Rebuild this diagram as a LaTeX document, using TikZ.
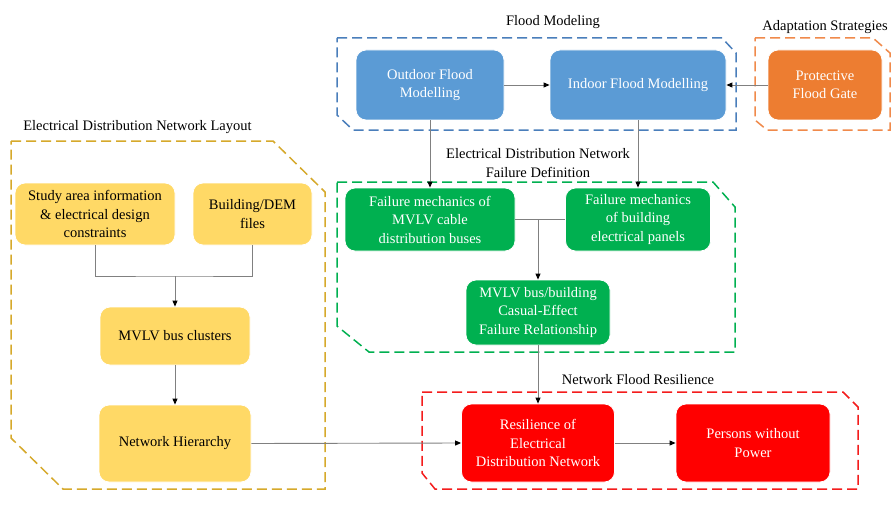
\documentclass[tikz,border=0pt]{standalone}
\usepackage{fontspec}
\setmainfont{Liberation Serif}
\usetikzlibrary{arrows.meta}
\definecolor{cblue}{HTML}{5B9BD5}
\definecolor{corange}{HTML}{ED7D31}
\definecolor{cyellow}{HTML}{FFD966}
\definecolor{cgreen}{HTML}{00B050}
\definecolor{cred}{HTML}{FF0000}
\definecolor{dblue}{HTML}{4A7EBB}
\definecolor{dorange}{HTML}{F08A4B}
\definecolor{dyellow}{HTML}{D6A92B}
\definecolor{dgreen}{HTML}{00B050}
\definecolor{dred}{HTML}{F41C1C}
\definecolor{lgray}{HTML}{808080}
\begin{document}
\begin{tikzpicture}[x=1pt,y=-1pt,
  box/.style={rounded corners=10pt, draw=white, line width=0.8pt, align=center, inner sep=0pt,
    font=\fontsize{14.5}{18.5}\selectfont},
  bluebox/.style={box, fill=cblue, text=white},
  orangebox/.style={box, fill=corange, text=white},
  yellowbox/.style={box, fill=cyellow, text=black},
  greenbox/.style={box, fill=cgreen, text=white},
  redbox/.style={box, fill=cred, text=white},
  grouplabel/.style={align=center, inner sep=0pt, font=\fontsize{14.5}{18.5}\selectfont},
  region/.style={dash pattern=on 10pt off 5pt, line width=1.5pt, line join=miter},
  conn/.style={draw=lgray, line width=0.9pt},
  arr/.style={conn, -{Triangle[length=6pt,width=5pt,color=black]}}
]
\useasboundingbox (0,0) rectangle (896,508);
\fill[white] (0,0) rectangle (896,508);

% dashed regions
\draw[region, dblue] (337,38) -- (722,38) -- (736,53) -- (736,130) -- (353,130) -- (337,115) -- cycle;
\draw[region, dorange] (755,38) -- (873,38) -- (890,53) -- (890,130) -- (767,130) -- (755,120) -- cycle;
\draw[region, dgreen] (337,182) -- (713,182) -- (735,207) -- (735,352) -- (369,352) -- (337,326) -- cycle;
\draw[region, dred] (422,392) -- (843,392) -- (858,407) -- (858,489) -- (435,489) -- (422,473) -- cycle;
\draw[region, dyellow] (11,141) -- (273,141) -- (325,192) -- (325,489) -- (63,489) -- (11,438) -- cycle;

% group labels
\node[grouplabel] (lflood) at (553,22) {Flood Modeling};
\node[grouplabel] (ladapt) at (825,27) {Adaptation Strategies};
\node[grouplabel] (lfail) at (538,163) {Electrical Distribution Network\\Failure Definition};
\node[grouplabel] (lres) at (638,380) {Network Flood Resilience};
\node[grouplabel] (llayout) at (137.5,127) {Electrical Distribution Network Layout};

% boxes
\node[bluebox, minimum width=148pt, minimum height=70pt] (out) at (430,85) {Outdoor Flood\\Modelling};
\node[bluebox, minimum width=176pt, minimum height=70pt] (in) at (638,85) {Indoor Flood Modelling};
\node[orangebox, minimum width=114pt, minimum height=70pt] (gate) at (825,85) {Protective\\Flood Gate};

\node[greenbox, minimum width=170pt, minimum height=63pt] (fm1) at (430,219.5) {Failure mechanics of\\MVLV cable\\distribution buses};
\node[greenbox, minimum width=145pt, minimum height=63pt] (fm2) at (638,219.5) {Failure mechanics\\of building\\electrical panels};
\node[greenbox, minimum width=144pt, minimum height=65pt] (bus) at (538,312.5) {MVLV bus/building\\Casual-Effect\\Failure Relationship};

\node[redbox, minimum width=153pt, minimum height=78pt] (res) at (538,443) {Resilience of\\Electrical\\Distribution Network};
\node[redbox, minimum width=154pt, minimum height=78pt] (pers) at (753,443) {Persons without\\Power};

\node[yellowbox, minimum width=160pt, minimum height=62pt] (study) at (95,214) {Study area information\\\& electrical design\\constraints};
\node[yellowbox, minimum width=119pt, minimum height=62pt] (bldg) at (252.5,214) {Building/DEM\\files};
\node[yellowbox, minimum width=150pt, minimum height=58pt] (clus) at (175,336) {MVLV bus clusters};
\node[yellowbox, minimum width=152pt, minimum height=77pt] (hier) at (175,443.5) {Network Hierarchy};

% connectors
\draw[arr] (out.east) -- (in.west);
\draw[arr] (gate.west) -- (in.east);
\draw[arr] (out.south) -- (fm1.north);
\draw[arr] (in.south) -- (fm2.north);
\draw[conn] (fm1.east) -- (fm2.west);
\coordinate (j) at (fm1.east -| bus.north);
\draw[arr] (j) -- (bus.north);
\draw[arr] (bus.south) -- (res.north);
\draw[arr] (res.east) -- (pers.west);
\coordinate (k) at (175,276);
\draw[conn] (study.south) |- (k) -| (bldg.south);
\draw[arr] (k) -- (clus.north);
\draw[arr] (clus.south) -- (hier.north);
\draw[arr] (hier.east) -- (res.west);
\end{tikzpicture}
\end{document}
